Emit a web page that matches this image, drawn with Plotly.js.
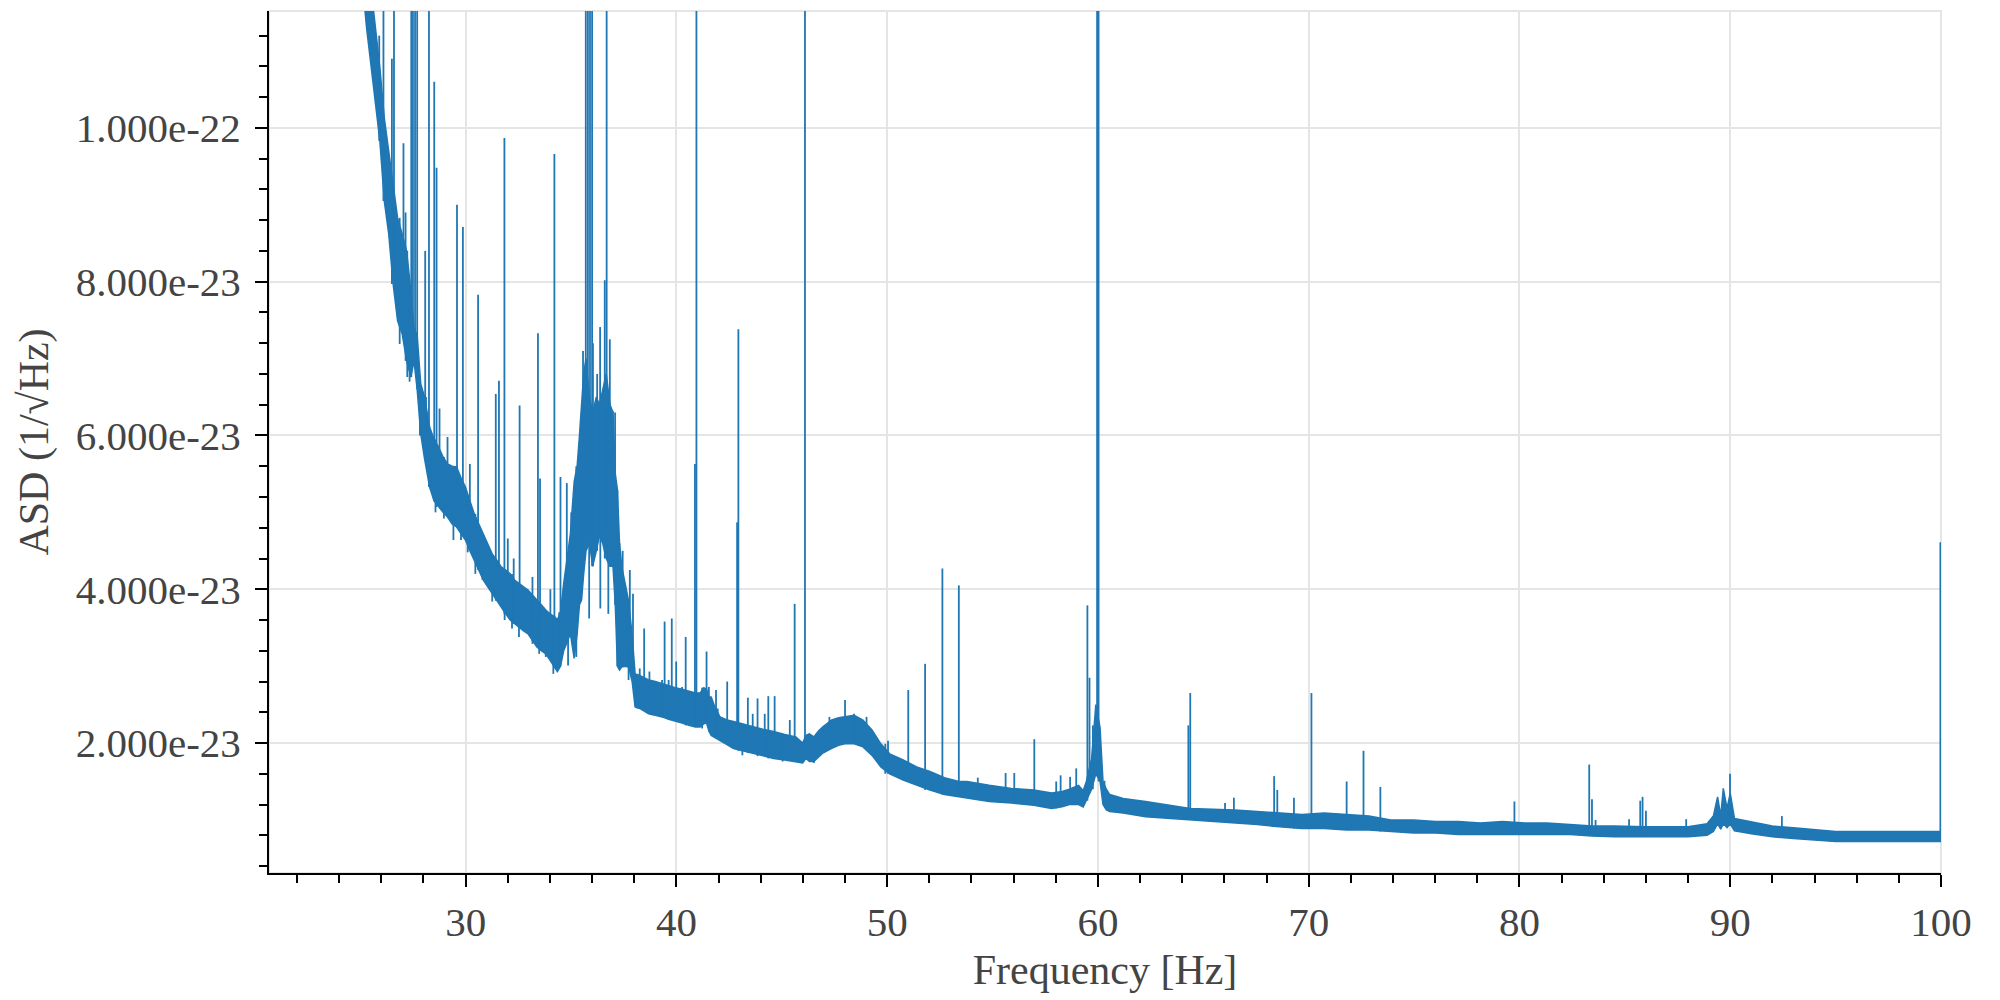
<!DOCTYPE html>
<html>
<head>
<meta charset="utf-8">
<script src="https://cdn.plot.ly/plotly-3.0.1.min.js"></script>
<style>html,body{margin:0;padding:0;background:#fff;}</style>
</head>
<body>
<div id="chart" style="width:2000px;height:1000px;"></div>
<script>
// Values in units of 1e-23 (1/sqrt(Hz))
const UNIT = 1e-23;
const FREQ = [25.0,25.3,25.6,25.93,26.14,26.35,26.56,26.77,26.99,27.2,27.4,27.55,27.7,27.87,28.05,28.29,28.5,28.72,28.93,29.14,29.36,29.57,29.78,29.99,30.2,30.41,30.62,30.84,31.05,31.26,31.47,31.69,31.9,32.11,32.32,32.53,32.75,32.96,33.17,33.38,33.59,33.8,34.0,34.23,34.35,34.5,34.65,34.8,34.97,35.15,35.29,35.4,35.5,35.6,35.71,35.87,36.03,36.2,36.35,36.5,36.67,36.85,36.99,37.1,37.2,37.3,37.41,37.55,37.73,37.9,38.04,38.26,38.47,38.68,39.0,39.32,39.63,39.95,40.27,40.59,40.9,41.12,41.3,41.43,41.55,41.65,41.85,42.07,42.4,42.71,43.13,43.56,44.1,44.61,45.14,45.67,45.99,46.15,46.31,46.52,46.75,46.95,47.37,47.7,48.0,48.43,48.85,49.28,49.7,50.12,50.76,51.4,52.03,52.72,53.4,53.78,54.84,55.9,56.96,57.8,58.3,58.65,59.08,59.3,59.45,59.7,59.9,60.1,60.24,60.4,60.56,61.2,62.26,63.32,64.38,65.44,66.5,67.56,68.6,69.68,70.74,71.8,72.86,73.9,74.97,76.03,77.1,78.15,79.2,80.27,81.3,82.4,83.45,84.5,86.0,88.0,88.9,89.2,89.4,89.55,89.67,89.85,90.0,90.2,91.0,92.0,93.0,95.0,98.0,100.0];
const LOWER = [12.2,11.3,10.6,9.83,9.05,8.62,7.97,7.49,7.32,6.97,6.76,6.97,6.6,6.02,5.7,5.33,5.15,5.07,5.0,4.94,4.85,4.81,4.72,4.64,4.5,4.38,4.25,4.12,4.03,3.94,3.85,3.77,3.68,3.6,3.55,3.51,3.46,3.42,3.33,3.25,3.2,3.16,3.08,2.99,2.93,3.0,3.2,3.3,3.42,3.1,3.42,3.8,3.86,4.2,4.5,4.6,4.3,4.5,4.7,4.6,4.4,4.3,4.3,3.8,3.0,2.95,2.99,3.0,2.99,2.8,2.47,2.45,2.42,2.38,2.36,2.34,2.31,2.29,2.26,2.23,2.21,2.21,2.25,2.26,2.15,2.1,2.07,2.04,1.98,1.93,1.9,1.87,1.83,1.8,1.78,1.76,1.74,1.8,1.76,1.76,1.82,1.87,1.93,1.97,1.99,1.99,1.95,1.84,1.69,1.6,1.52,1.45,1.39,1.33,1.3,1.28,1.24,1.22,1.19,1.15,1.17,1.2,1.2,1.17,1.25,1.4,1.6,1.5,1.2,1.13,1.11,1.09,1.04,1.02,1.0,0.98,0.96,0.94,0.91,0.89,0.89,0.87,0.87,0.85,0.83,0.83,0.81,0.81,0.81,0.81,0.81,0.81,0.79,0.78,0.78,0.78,0.8,0.85,0.95,0.88,0.95,0.9,0.95,0.86,0.82,0.78,0.76,0.72,0.72,0.72];
const UPPER = [13.0,12.4,11.6,10.78,10.13,9.7,9.27,8.83,8.62,8.4,7.88,7.4,7.3,6.67,6.5,6.11,5.95,5.85,5.72,5.63,5.6,5.59,5.45,5.33,5.15,4.98,4.85,4.72,4.6,4.46,4.38,4.29,4.25,4.2,4.12,4.07,4.03,3.99,3.92,3.86,3.8,3.73,3.68,3.64,3.6,3.7,4.07,4.4,4.72,5.4,5.6,6.0,6.45,6.8,7.0,6.5,6.3,6.5,6.4,6.6,6.8,6.4,6.3,5.5,5.3,4.6,4.29,4.1,3.85,3.4,2.9,2.88,2.85,2.82,2.8,2.77,2.74,2.72,2.7,2.67,2.65,2.65,2.72,2.7,2.6,2.6,2.45,2.34,2.3,2.28,2.25,2.21,2.18,2.15,2.11,2.08,2.0,2.1,2.12,2.08,2.16,2.21,2.3,2.33,2.34,2.36,2.3,2.17,1.99,1.86,1.78,1.69,1.63,1.55,1.5,1.5,1.45,1.41,1.39,1.35,1.37,1.4,1.45,1.38,1.5,1.8,2.5,2.2,1.5,1.4,1.33,1.28,1.24,1.19,1.15,1.14,1.13,1.11,1.09,1.07,1.09,1.07,1.05,1.0,1.0,0.98,0.98,0.96,0.98,0.96,0.96,0.94,0.92,0.92,0.91,0.91,0.95,1.05,1.3,1.05,1.41,1.15,1.35,1.02,0.98,0.92,0.9,0.85,0.85,0.85];

// Narrow lines rising above the noise band (frequency, peak)
const SPIKE_FREQ = [25.9,26.1,26.5,26.6,27.05,27.15,27.42,27.5,27.6,27.7,28.08,28.26,28.51,28.62,28.76,29.14,29.59,29.87,30.2,30.59,31.43,31.58,31.84,32.0,32.28,32.56,33.17,33.43,33.53,34.02,34.21,34.5,34.8,35.01,35.47,35.57,35.7,35.8,35.9,36.0,36.04,36.24,36.38,36.6,36.69,36.84,36.98,37.09,37.2,37.45,37.79,37.94,38.26,38.47,38.72,39.32,39.44,39.63,39.78,39.99,40.27,40.44,40.88,40.95,41.37,41.43,41.54,41.88,42.41,42.88,42.94,43.39,43.62,43.85,44.19,44.36,44.66,45.38,45.61,46.1,47.26,48.0,48.43,49.02,50.04,51.0,51.8,52.62,53.4,54.3,55.62,56.03,56.98,58.02,58.23,58.68,58.97,59.5,59.6,59.76,59.96,60.03,60.31,64.29,64.38,66.03,66.45,68.36,68.51,69.3,70.13,71.8,72.6,73.4,79.76,83.31,83.44,83.61,85.2,85.73,85.84,86.0,87.91,89.99,92.45,99.97];
const SPIKE_PEAK = [11.2,13,10.9,13,9.8,8.9,13,13,13,13,8.4,13,10.6,9.48,6.35,5.98,9.0,8.71,5.63,7.83,6.54,6.71,9.87,4.66,4.4,6.39,4.16,7.33,5.44,4.0,9.66,5.46,5.38,5.0,5.8,7.1,13,13,13,13,7.2,6.8,7.41,8.02,13,7.25,6.32,6.3,5.29,4.5,4.25,3.94,2.97,3.49,2.93,2.82,3.58,2.82,3.62,3.06,2.73,3.38,5.63,13,2.69,3.19,2.73,2.69,2.8,4.87,7.38,2.59,2.38,2.58,2.38,2.61,2.61,2.3,3.81,13,2.34,2.56,2.38,2.34,2.03,2.69,3.03,4.27,4.05,1.55,1.61,1.61,2.05,1.5,1.58,1.56,1.67,3.79,2.85,2.23,13,13,1.51,2.23,2.65,1.22,1.29,1.57,1.39,1.29,2.65,1.5,1.9,1.43,1.24,1.72,1.27,1.0,1.01,1.25,1.3,1.12,1.01,1.6,1.05,4.61];

// Downward excursions below the noise band (frequency, minimum)
const DIP_FREQ = [26.87,27.23,27.34,27.83,28.12,28.4,28.57,28.97,29.42,29.78,30.1,30.46,30.8,31.26,31.85,32.2,32.53,33.17,33.49,33.8,34.16,34.44,34.86,35.25,35.86,36.39,36.77,37.3,37.73,38.15,38.89,40.16,41.22,41.96,43.13,45.04,45.9,46.52,49.91];
const DIP_VALUE = [7.19,6.76,6.7,6.0,5.61,5.26,5.0,4.92,4.64,4.64,4.48,4.2,4.12,3.84,3.6,3.49,3.38,3.29,3.16,3.12,2.9,3.03,3.01,3.12,3.62,3.75,3.68,2.99,2.82,2.45,2.36,2.3,2.19,2.08,1.84,1.76,1.74,1.74,1.6];

const X_TICKS = [30,40,50,60,70,80,90,100];
const Y_TICKS = [2e-23,4e-23,6e-23,8e-23,1e-22];
const Y_TICK_LABELS = ['2.000e-23','4.000e-23','6.000e-23','8.000e-23','1.000e-22'];

const BLUE = '#1f77b4';
const lowerY = LOWER.map(v => v * UNIT);
const upperY = UPPER.map(v => v * UNIT);

function nearestIndex(f) {
  let best = 0, bd = Infinity;
  for (let i = 0; i < FREQ.length; i++) {
    const d = Math.abs(FREQ[i] - f);
    if (d < bd) { bd = d; best = i; }
  }
  return best;
}
const sx = [], sy = [];
SPIKE_FREQ.forEach((f, i) => {
  sx.push(f, f, null);
  sy.push(LOWER[nearestIndex(f)] * UNIT, SPIKE_PEAK[i] * UNIT, null);
});
const dx = [], dy = [];
DIP_FREQ.forEach((f, i) => {
  dx.push(f, f, null);
  dy.push(UPPER[nearestIndex(f)] * UNIT, DIP_VALUE[i] * UNIT, null);
});

const traces = [
  {x: FREQ, y: lowerY, mode: 'lines', line: {color: BLUE, width: 1.5}, hoverinfo: 'skip', showlegend: false},
  {x: FREQ, y: upperY, mode: 'lines', fill: 'tonexty', fillcolor: BLUE, line: {color: BLUE, width: 1.5}, hoverinfo: 'skip', showlegend: false},
  {x: dx, y: dy, mode: 'lines', line: {color: BLUE, width: 1.8}, connectgaps: false, hoverinfo: 'skip', showlegend: false},
  {x: sx, y: sy, mode: 'lines', line: {color: BLUE, width: 1.8}, connectgaps: false, hoverinfo: 'skip', showlegend: false}
];

const FONT = 'Liberation Serif, Times New Roman, serif';
const layout = {
  width: 2000, height: 1000,
  margin: {l: 269, r: 59, t: 11, b: 127, pad: 0},
  paper_bgcolor: '#ffffff', plot_bgcolor: '#ffffff',
  showlegend: false,
  font: {family: FONT, color: '#444444', size: 41},
  xaxis: {
    range: [20.67, 100],
    tickvals: X_TICKS,
    ticks: 'outside', ticklen: 12, tickwidth: 2, tickcolor: '#000',
    showline: true, linecolor: '#000', linewidth: 2,
    showgrid: true, gridcolor: '#e5e5e5', gridwidth: 2,
    zeroline: false,
    tickfont: {family: FONT, size: 41, color: '#444444'},
    minor: {dtick: 2, tick0: 0, ticks: 'outside', ticklen: 8, tickwidth: 2, tickcolor: '#000', showgrid: false},
    title: {text: 'Frequency [Hz]', font: {family: FONT, size: 42, color: '#444444'}, standoff: 10},
    automargin: false
  },
  yaxis: {
    range: [0.31e-23, 11.52e-23],
    tickvals: Y_TICKS,
    ticktext: Y_TICK_LABELS,
    ticks: 'outside', ticklen: 12, tickwidth: 2, tickcolor: '#000',
    showline: true, linecolor: '#000', linewidth: 2,
    showgrid: true, gridcolor: '#e5e5e5', gridwidth: 2,
    zeroline: false,
    ticklabelstandoff: 6,
    tickfont: {family: FONT, size: 41, color: '#444444'},
    minor: {dtick: 0.4e-23, tick0: 0, ticks: 'outside', ticklen: 8, tickwidth: 2, tickcolor: '#000', showgrid: false},
    title: {text: 'ASD (1/√Hz)', font: {family: FONT, size: 42, color: '#444444'}, standoff: 14},
    automargin: false
  },
  shapes: [
    {type: 'rect', xref: 'paper', yref: 'paper', x0: 0, x1: 1, y0: 0, y1: 1,
     line: {color: '#e5e5e5', width: 2}, layer: 'below'}
  ]
};

Plotly.newPlot('chart', traces, layout, {staticPlot: true, displayModeBar: false});
</script>
</body>
</html>
